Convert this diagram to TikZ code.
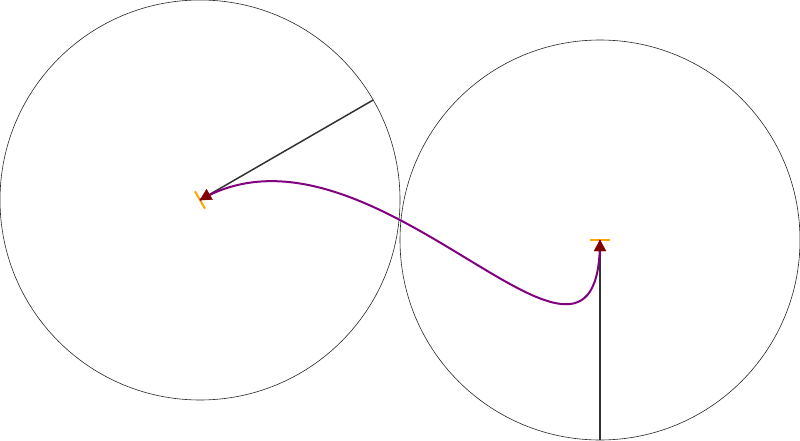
\documentclass[tikz,border=0pt]{standalone}
\usetikzlibrary{calc}
\definecolor{handle}{HTML}{333333}
\definecolor{curvecol}{HTML}{800080}
\definecolor{tipcol}{HTML}{800000}
\definecolor{tickcol}{HTML}{FFA500}
\tikzset{
  wheel/.style={draw=black!85, line width=0.6pt},
  handleline/.style={draw=handle, line width=1.5pt},
  tickline/.style={draw=tickcol, line width=2pt},
  pathcurve/.style={draw=curvecol, line width=2pt},
  tiphead/.style={fill=tipcol, draw=tipcol, line width=0.3pt, line join=miter},
}
\begin{document}
\begin{tikzpicture}[x=1pt,y=-1pt]
\useasboundingbox (0,0) rectangle (800,441);
\coordinate (c1) at (200,200);
\coordinate (c2) at (600,240);
\coordinate (h1) at (373.2,100);
\coordinate (h2) at (600,440);
\draw[wheel] (c1) circle[radius=200];
\draw[wheel] (c2) circle[radius=200];
\draw[handleline] (c1) -- (h1);
\draw[handleline] (c2) -- (h2);
\draw[tickline] ($(c1)+(-5,-8.66)$) -- ($(c1)+(5,8.66)$);
\draw[tickline] ($(c2)+(-10,0)$) -- ($(c2)+(10,0)$);
\draw[pathcurve] (c1) .. controls (h1) and (h2) .. (c2);
\coordinate (b1) at ($(c1)!11pt!(h1)$);
\coordinate (b2) at ($(c2)!11pt!(h2)$);
\filldraw[tiphead] (c1) -- ($(b1)!6pt!90:(c1)$) -- ($(b1)!6pt!-90:(c1)$) -- cycle;
\filldraw[tiphead] (c2) -- ($(b2)!6pt!90:(c2)$) -- ($(b2)!6pt!-90:(c2)$) -- cycle;
\end{tikzpicture}
\end{document}
